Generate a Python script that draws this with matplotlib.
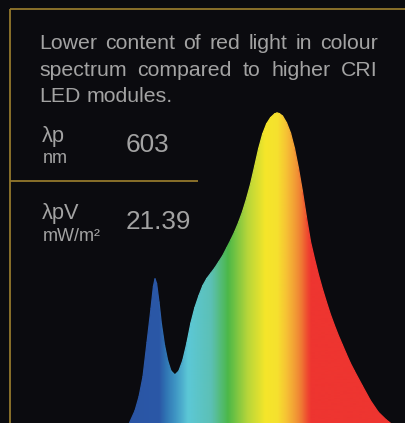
import numpy as np
import matplotlib
matplotlib.use("Agg")
import matplotlib.pyplot as plt
from matplotlib.colors import LinearSegmentedColormap
from matplotlib.collections import LineCollection
from matplotlib.patches import Polygon

# spectrum (nm, relative intensity)
wavelength = [418, 425, 430, 435, 440, 445, 448, 450, 452, 455, 458, 462, 466, 470,
              475, 480, 485, 490, 495, 500, 505, 510, 515, 520, 525, 530, 535, 540,
              545, 550, 555, 560, 565, 570, 575, 580, 585, 590, 595, 600, 603, 606,
              610, 615, 620, 625, 630, 635, 640, 645, 650, 655, 660, 665, 670, 675,
              680, 685, 690, 695, 700, 710, 720, 730, 740, 745]
intensity = [0.0, 0.04, 0.085, 0.15, 0.26, 0.37, 0.44, 0.465, 0.45, 0.39, 0.32, 0.25,
             0.20, 0.168, 0.155, 0.168, 0.203, 0.258, 0.322, 0.372, 0.41, 0.443, 0.466,
             0.483, 0.50, 0.52, 0.54, 0.565, 0.59, 0.617, 0.648, 0.683, 0.725, 0.772,
             0.828, 0.885, 0.932, 0.965, 0.985, 0.997, 1.0, 0.998, 0.99, 0.968, 0.935,
             0.885, 0.82, 0.745, 0.662, 0.585, 0.53, 0.478, 0.432, 0.39, 0.35, 0.315,
             0.282, 0.252, 0.222, 0.193, 0.168, 0.12, 0.073, 0.035, 0.01, 0.0]

note_lines = ["Lower content of red light in colour",
              "spectrum compared to higher CRI",
              "LED modules."]
params = ["λp", "λpV"]
units = ["nm", "mW/m²"]
values = ["603", "21.39"]

grad_nm = [416, 455, 462, 475, 491, 520, 541, 566, 588, 603, 615, 630, 640, 645, 750]
grad_col = ["#2a55a5", "#2b58a7", "#2f72b2", "#3f96c4", "#5cc8d6", "#5cc0b5",
            "#4cb848", "#b8d63a", "#f5e62a", "#f6e12e", "#f6c035", "#f08a35",
            "#ee5030", "#ee3530", "#ee3530"]

BG = "#0b0b0f"
GOLD = "#94782c"
TXT = "#a3a3a3"
FONT = ["Liberation Sans", "DejaVu Sans"]

fig = plt.figure(figsize=(4.06, 4.23), dpi=100, facecolor=BG)

# spectrum with rainbow fill
ax = fig.add_axes([0, 0, 1, 1])
ax.set_facecolor(BG)
ax.axis("off")

lo, hi = grad_nm[0], grad_nm[-1]
cmap = LinearSegmentedColormap.from_list(
    "spec", [((n - lo) / (hi - lo), c) for n, c in zip(grad_nm, grad_col)])
xs = np.linspace(lo, hi, 800)
im = ax.imshow(xs[None, :], extent=(lo, hi, -0.05, 1.05), aspect="auto",
               cmap=cmap, vmin=lo, vmax=hi, origin="lower", interpolation="bilinear")
verts = np.column_stack([wavelength, intensity])
verts = np.vstack([[wavelength[0], -0.05], verts, [wavelength[-1], -0.05]])
shape = Polygon(verts, closed=True, facecolor="none", edgecolor="none")
ax.add_patch(shape)
im.set_clip_path(shape)

# soft outline to hide the hard clip edge
pts = np.column_stack([wavelength, intensity])
segs = np.stack([pts[:-1], pts[1:]], axis=1)
mids = (pts[:-1, 0] + pts[1:, 0]) / 2
edge = LineCollection(segs, colors=cmap((mids - lo) / (hi - lo)), linewidths=0.9,
                      capstyle="round", joinstyle="round")
ax.add_collection(edge)
ax.set_xlim(255.6, 764.8)
ax.set_ylim(0, 1.3645)

# overlay in pixel coords
ov = fig.add_axes([0, 0, 1, 1])
ov.set_xlim(0, 406)
ov.set_ylim(423, 0)
ov.axis("off")
ov.patch.set_alpha(0)

ov.plot([10.2, 10.2], [9.5, 423], color=GOLD, lw=1.3, solid_capstyle="butt")
ov.plot([10.2, 406], [9.5, 9.5], color=GOLD, lw=1.3, solid_capstyle="butt")
ov.plot([10.2, 198], [180.7, 180.7], color=GOLD, lw=1.3, solid_capstyle="butt")

fig.canvas.draw()
r = fig.canvas.get_renderer()
FS = 15.3


def justify(line, y, x0, x1, full=True):
    words = line.split()
    ts = [ov.text(0, y, w, color=TXT, fontsize=FS, family=FONT, va="baseline")
          for w in words]
    ws = [t.get_window_extent(r).width for t in ts]
    a = ov.text(0, y, "a a", fontsize=FS, family=FONT)
    b = ov.text(0, y, "aa", fontsize=FS, family=FONT)
    sp = a.get_window_extent(r).width - b.get_window_extent(r).width
    a.remove()
    b.remove()
    gap = (x1 - x0 - sum(ws)) / (len(words) - 1) if full else sp
    x = x0
    for t, w in zip(ts, ws):
        t.set_x(x)
        x += w + gap


baselines = [49.3, 76, 101.7]
for i, (line, y) in enumerate(zip(note_lines, baselines)):
    justify(line, y, 39, 378, full=i < len(note_lines) - 1)

param_y = [141.7, 219.5]
unit_y = [162.7, 241]
value_y = [152, 229.3]
for p, u, v, py, uy, vy in zip(params, units, values, param_y, unit_y, value_y):
    ov.text(42, py, p, color=TXT, fontsize=15.7, family=FONT, va="baseline")
    ov.text(43, uy, u, color=TXT, fontsize=13, family=FONT, va="baseline")
    ov.text(126, vy, v, color=TXT, fontsize=18.8, family=FONT, va="baseline")

fig.savefig("out.png", dpi=100, facecolor=BG)
